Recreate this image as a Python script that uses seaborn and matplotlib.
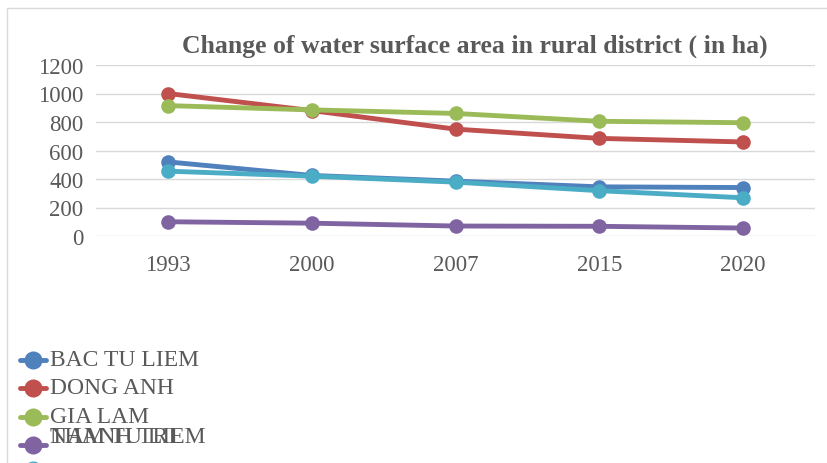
import matplotlib
matplotlib.use("Agg")
import matplotlib.pyplot as plt
import pandas as pd
import seaborn as sns
from matplotlib.lines import Line2D
from matplotlib.patches import Rectangle

# Data (area in ha)
years = ["1993", "2000", "2007", "2015", "2020"]
bac_tu_liem = [520, 425, 385, 345, 340]
dong_anh = [1000, 880, 750, 685, 660]
gia_lam = [915, 885, 860, 805, 795]
nam_tu_liem = [100, 90, 70, 68, 56]
thanh_tri = [455, 420, 378, 318, 268]

districts = ["BAC TU LIEM", "DONG ANH", "GIA LAM", "NAM TU LIEM", "THANH TRI"]
colors = ["#4F81BD", "#C0504D", "#9BBB59", "#8064A2", "#4BACC6"]

series = [bac_tu_liem, dong_anh, gia_lam, nam_tu_liem, thanh_tri]
rows = []
for name, vals in zip(districts, series):
    for y, v in zip(years, vals):
        rows.append({"Year": y, "District": name, "Area": v})
df = pd.DataFrame(rows)

sns.set_style("white")
plt.rcParams["font.family"] = ["Liberation Serif", "DejaVu Serif"]

fig = plt.figure(figsize=(8.27, 4.64), dpi=100)
ax = fig.add_axes([96 / 827, 1 - 237 / 464, (815 - 96) / 827, (237 - 66) / 464])

for name, col in zip(districts, colors):
    sub = df[df["District"] == name]
    sns.lineplot(data=sub, x="Year", y="Area", ax=ax, color=col, linewidth=3.5,
                 marker="o", markersize=10.5, markeredgewidth=0, legend=False,
                 sort=False)

ax.set_xlim(-0.5, 4.5)
ax.set_ylim(0, 1200)
ax.set_yticks(range(0, 1201, 200))
ax.grid(axis="y", color="#D9D9D9", linewidth=1)
ax.grid(axis="x", visible=False)
for s in ax.spines.values():
    s.set_visible(False)
ax.set_xlabel("")
ax.set_ylabel("")
ax.tick_params(axis="both", length=0, labelsize=16.5, labelcolor="#595959")
ax.tick_params(axis="x", pad=13)
ax.tick_params(axis="y", pad=9)

fig.text(475 / 827, 1 - 46 / 464, "Change of water surface area in rural district ( in ha)",
         ha="center", va="center", fontsize=18.5, fontweight="bold", color="#595959")

# outer chart border (only top/left edges visible in the crop)
fig.patches.append(Rectangle((7 / 827, -0.1), 1.2, 1 - 9 / 464 + 0.1, transform=fig.transFigure,
                             fill=False, edgecolor="#D9D9D9", linewidth=1))

# legend stacked at bottom-left, last two labels overlap as in the source
marker_y = [361, 389, 418, 446, 471]
text_y = [361, 389, 418, 438, 438]
for name, col, my, ty in zip(districts, colors, marker_y, text_y):
    yy = 1 - my / 464
    fig.add_artist(Line2D([20 / 827, 33 / 827, 46 / 827], [yy, yy, yy], transform=fig.transFigure,
                          color=col, linewidth=3.5, marker="o", markersize=13,
                          markevery=[1], markeredgewidth=0))
    fig.text(50 / 827, 1 - ty / 464, name, ha="left", va="center", fontsize=17, color="#595959")

fig.savefig("out.png", dpi=100)
